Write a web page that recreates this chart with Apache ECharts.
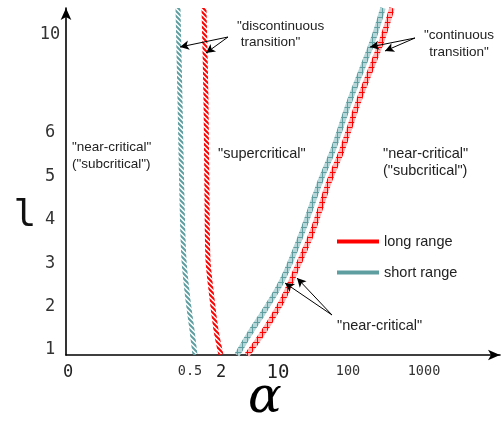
<!DOCTYPE html>
<html><head><meta charset="utf-8">
<script src="https://cdn.jsdelivr.net/npm/echarts@6/dist/echarts.min.js"></script>
<style>html,body{margin:0;padding:0;background:#fff}#c{width:504px;height:422px}</style>
</head><body><div id="c"></div>
<script>
// Axis ticks (schematic, non-uniform axes: positions in axis units)
const xTickPos = [2, 124, 155, 212, 282, 358];
const xTickLabels = ['0', '0.5', '2', '10', '100', '1000'];
const yTickPos = [5, 48, 91, 135, 178, 222, 320];
const yTickLabels = ['1', '2', '3', '4', '5', '6', '10'];

// Phase boundaries [x, y] in axis units
const shortDiscontinuous = [[112,347],[114,255],[116,155],[118,95],[122,55],[126,25],[129,0]];
const longDiscontinuous  = [[138,347],[140,255],[141,155],[142,95],[145,65],[150,25],[155,0]];
const shortContinuous = [[171,0],[184,22],[197,42],[211,65],[221,85],[237,125],[254,173],[267,205],[284,255],[307,315],[317,347]];
const longContinuous  = [[181,0],[192,15],[205,35],[218,58],[230,85],[247,125],[263,173],[276,205],[293,255],[316,315],[326,347]];

// Annotation arrows: [from, to]
const arrows = [
  [[162,318],[114,308]], [[162,318],[140,302]],
  [[349,317],[304,308]], [[349,317],[319,304]],
  [[266,40],[219,72]],   [[266,40],[231,77]]
];

const RED = '#ff0000', TEAL = '#5f9ea0';

function stripes(color){
  const s = 5, c = document.createElement('canvas'); c.width = c.height = s;
  const g = c.getContext('2d'); g.strokeStyle = color; g.lineWidth = 2;
  g.beginPath();
  g.moveTo(-2,-2); g.lineTo(s+2,s+2);
  g.moveTo(-2,s-2); g.lineTo(2,s+2);
  g.moveTo(s-2,-2); g.lineTo(s+2,2);
  g.stroke();
  return {image: c, repeat: 'repeat'};
}
function cross(light, dark){
  const s = 5, c = document.createElement('canvas'); c.width = c.height = s;
  const g = c.getContext('2d'); g.fillStyle = light; g.fillRect(0,0,s,s);
  g.fillStyle = dark; g.fillRect(0,2,s,1); g.fillRect(2,0,1,s);
  return {image: c, repeat: 'repeat'};
}

const xLabelMap = {}; xTickPos.forEach((p,i)=>xLabelMap[p]=xTickLabels[i]);
const yLabelMap = {}; yTickPos.forEach((p,i)=>yLabelMap[p]=yTickLabels[i]);
const xStyle = {'0':'m','0.5':'s','2':'m','10':'l','100':'s','1000':'s'};

const chart = echarts.init(document.getElementById('c'), null, {renderer:'canvas'});
const txt = (x,y,t,size,align,lh) => ({type:'text', x:x, y:y, silent:true,
  style:{text:t, x:0, y:0, font: size+'px "Liberation Sans", Arial, sans-serif', fill:'#222',
  textAlign:align||'left', textVerticalAlign:'top', lineHeight:lh||17}});

chart.setOption({
  animation:false,
  grid:{left:66, right:4, top:8, bottom:67, containLabel:false, outerBoundsMode:'none'},
  xAxis:{type:'value', min:0, max:434,
    axisLine:{lineStyle:{color:'#000', width:1.6}, symbol:['none','arrow'], symbolSize:[8,12]},
    axisTick:{show:false}, splitLine:{show:false},
    axisLabel:{customValues:xTickPos, margin:9, color:'#222',
      formatter:v=>'{'+xStyle[xLabelMap[v]]+'|'+xLabelMap[v]+'}',
      rich:{
        s:{fontFamily:'"DejaVu Sans Mono", monospace', fontSize:13.5, color:'#333'},
        m:{fontFamily:'"DejaVu Sans Mono", monospace', fontSize:17, color:'#222'},
        l:{fontFamily:'"DejaVu Sans Mono", monospace', fontSize:19, color:'#222'}
      }}
  },
  yAxis:{type:'value', min:0, max:347,
    axisLine:{show:true, lineStyle:{color:'#000', width:1.6}, symbol:['none','arrow'], symbolSize:[8,12]},
    axisTick:{show:false}, splitLine:{show:false},
    axisLabel:{customValues:yTickPos, margin:16, align:'center', color:'#333',
      fontFamily:'"DejaVu Sans Mono", monospace', fontSize:17,
      formatter:v=>yLabelMap[v]}
  },
  legend:{orient:'vertical', left:337, top:234, padding:0, itemWidth:42, itemHeight:4, itemGap:16, icon:'rect',
    textStyle:{fontFamily:'"Liberation Sans", Arial, sans-serif', fontSize:14.5, color:'#222'},
    itemStyle:{borderWidth:0},
    data:[
      {name:'long range', itemStyle:{color:RED}, lineStyle:{color:RED, width:4}},
      {name:'short range', itemStyle:{color:TEAL}, lineStyle:{color:TEAL, width:4}}
    ]},
  series:[
    {name:'short range', type:'line', data:shortDiscontinuous, smooth:0.3, showSymbol:false, color:TEAL, silent:true,
      lineStyle:{width:5, color:stripes(TEAL)}},
    {name:'long range', type:'line', data:longDiscontinuous, smooth:0.3, showSymbol:false, color:RED, silent:true,
      lineStyle:{width:5, color:stripes(RED)},
      markLine:{silent:true, symbol:['none','arrow'], symbolSize:[7,9], label:{show:false},
        lineStyle:{color:'#000', width:1, type:'solid'}, emphasis:{disabled:true},
        data: arrows.map(a=>[{coord:a[0]},{coord:a[1]}])}},
    {name:'short range', type:'line', data:shortContinuous, smooth:0.3, showSymbol:false, color:TEAL, silent:true,
      lineStyle:{width:5.5, color:cross('#b4d6d8', TEAL)}},
    {name:'long range', type:'line', data:longContinuous, smooth:0.3, showSymbol:false, color:RED, silent:true,
      lineStyle:{width:5.5, color:cross('#ffb0b0', RED)}}
  ],
  graphic:[
    {type:'text', x:25, y:216, silent:true, style:{text:'l', font:'38px "DejaVu Sans Mono", monospace', fill:'#111', textAlign:'center', textVerticalAlign:'middle'}},
    {type:'text', x:265, y:399, silent:true, style:{text:'α', font:'italic 50px "DejaVu Serif", serif', fill:'#000', textAlign:'center', textVerticalAlign:'middle'}},
    txt(72,139,'"near-critical"\n("subcritical")',13.5,'left',17),
    txt(218,145,'"supercritical"',14.5,'left',17),
    txt(237,19,'"discontinuous\n transition"',13.5,'left',15.5),
    txt(459,27,'"continuous\ntransition"',13.5,'center',17),
    txt(383,145,'"near-critical"\n("subcritical")',14.5,'left',17),
    txt(337,317,'"near-critical"',14.5,'left',17)
  ]
});
</script></body></html>
